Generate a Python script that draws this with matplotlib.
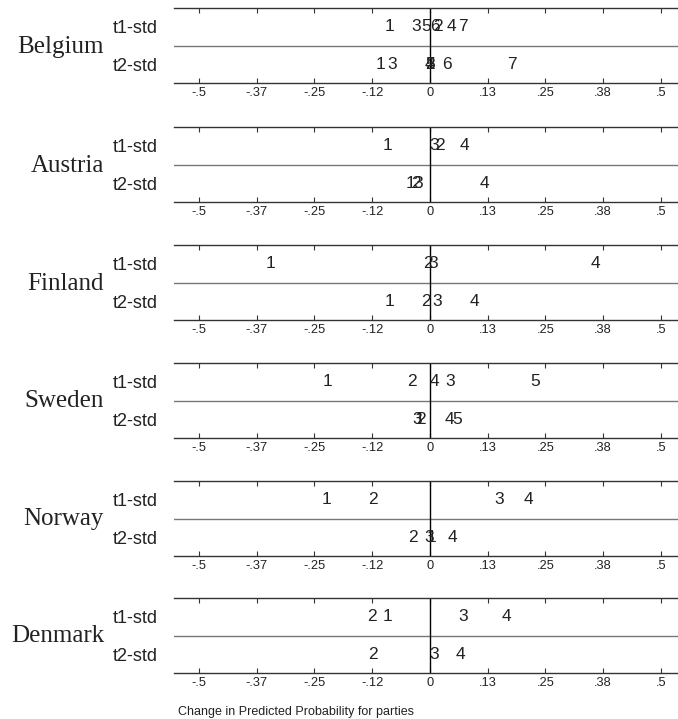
import matplotlib
matplotlib.use("Agg")
import matplotlib.pyplot as plt

# country panels, top to bottom
countries = ["Belgium", "Austria", "Finland", "Sweden", "Norway", "Denmark"]
rows = ["t1-std", "t2-std"]

# change in predicted probability, parties 1..n (index 0 = party 1)
belgium_t1 = [-0.087, 0.017, -0.029, 0.046, -0.008, 0.010, 0.072]
belgium_t2 = [-0.107, 0.001, -0.081, -0.001, 0.000, 0.037, 0.178]
austria_t1 = [-0.091, 0.022, 0.009, 0.074]
austria_t2 = [-0.043, -0.030, -0.026, 0.118]
finland_t1 = [-0.345, -0.004, 0.006, 0.358]
finland_t2 = [-0.087, -0.008, 0.016, 0.097]
sweden_t1 = [-0.222, -0.040, 0.043, 0.010, 0.227]
sweden_t2 = [-0.022, -0.020, -0.027, 0.043, 0.059]
norway_t1 = [-0.224, -0.123, 0.149, 0.214]
norway_t2 = [0.003, -0.036, -0.002, 0.048]
denmark_t1 = [-0.092, -0.125, 0.072, 0.166]
denmark_t2 = [None, -0.123, 0.009, 0.066]

panel_data = [
    (belgium_t1, belgium_t2),
    (austria_t1, austria_t2),
    (finland_t1, finland_t2),
    (sweden_t1, sweden_t2),
    (norway_t1, norway_t2),
    (denmark_t1, denmark_t2),
]

tick_vals = [-0.5, -0.375, -0.25, -0.125, 0, 0.125, 0.25, 0.375, 0.5]
tick_labels = ["-.5", "-.37", "-.25", "-.12", "0", ".13", ".25", ".38", ".5"]

W, H = 678, 719
fig = plt.figure(figsize=(W / 100, H / 100), dpi=100)

panel_tops = [8, 127, 245, 363, 481, 598]
panel_h = 75
ax_left, ax_right = 174, 678

for name, (t1, t2), top in zip(countries, panel_data, panel_tops):
    ax = fig.add_axes([ax_left / W, 1 - (top + panel_h) / H,
                       (ax_right - ax_left) / W, panel_h / H])
    ax.set_xlim(-0.554, 0.537)
    ax.set_ylim(0, 2)
    for side in ["left", "right"]:
        ax.spines[side].set_visible(False)
    for side in ["top", "bottom"]:
        ax.spines[side].set_color("#333333")
        ax.spines[side].set_linewidth(1.0)
    ax.axhline(1, color="#777777", lw=1.0)
    ax.axvline(0, color="black", lw=1.0)

    ax.set_xticks(tick_vals)
    ax.set_xticklabels(tick_labels, fontsize=9.3, family="Liberation Sans",
                       color="#222222")
    ax.tick_params(axis="x", direction="in", top=True, length=3.5,
                   width=0.8, color="#333333", pad=3)
    ax.set_yticks([1.5, 0.5])
    ax.set_yticklabels(rows, fontsize=13, family="Liberation Sans",
                       color="#222222")
    ax.tick_params(axis="y", length=0, pad=12)

    for yrow, vals in ((1.5, t1), (0.5, t2)):
        for i, v in enumerate(vals):
            if v is None:
                continue
            ax.text(v, yrow, str(i + 1), ha="center", va="center",
                    fontsize=12.5, family="Liberation Sans", color="#222222")

    fig.text(104 / W, 1 - (top + panel_h / 2 + 1) / H, name,
             family="Liberation Serif", fontsize=18, color="#222222",
             ha="right", va="center")

fig.text(178 / W, 1 - 712 / H, "Change in Predicted Probability for parties",
         family="Liberation Sans", fontsize=9, color="#222222",
         ha="left", va="center")

fig.savefig("out.png", dpi=100)
